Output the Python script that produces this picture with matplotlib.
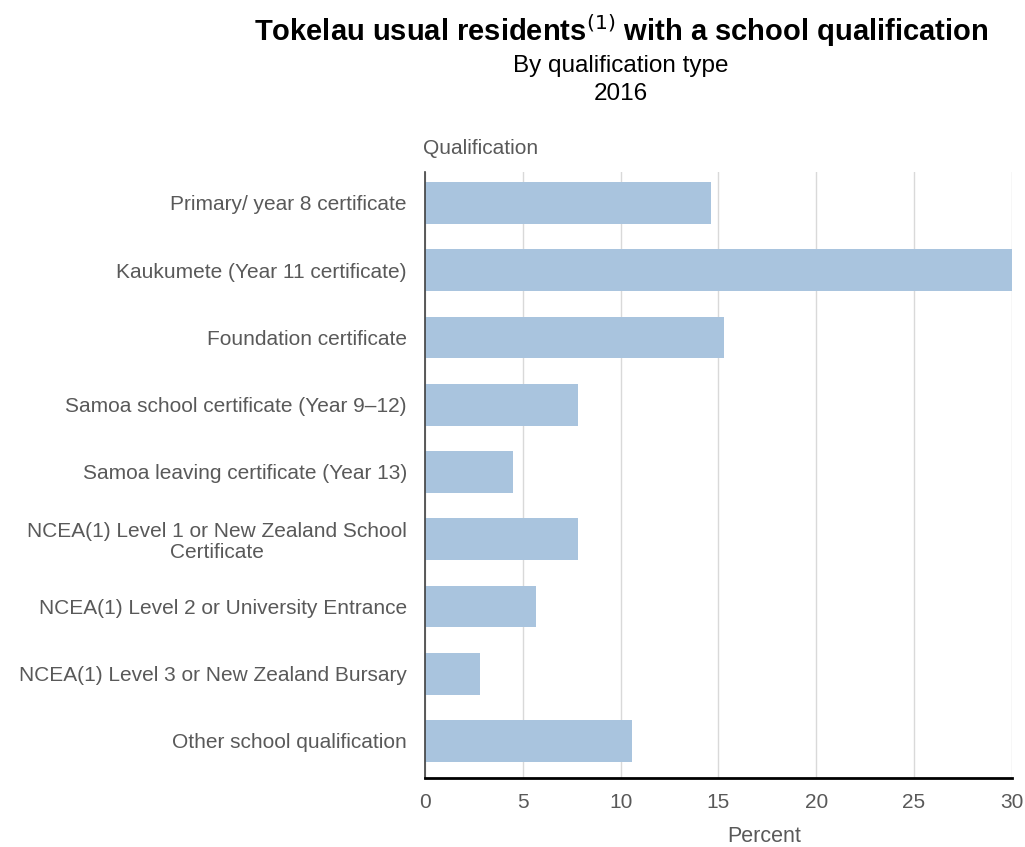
import matplotlib as mpl
from matplotlib import pyplot as plt
import numpy as np

mpl.rc('font', family=['Liberation Sans', 'DejaVu Sans'])

categories = [
    "Primary/ year 8 certificate",
    "Kaukumete (Year 11 certificate)",
    "Foundation certificate",
    "Samoa school certificate (Year 9\u201312)",
    "Samoa leaving certificate (Year 13)",
    "NCEA(1) Level 1 or New Zealand School\nCertificate",
    "NCEA(1) Level 2 or University Entrance",
    "NCEA(1) Level 3 or New Zealand Bursary",
    "Other school qualification",
]
percent = [14.6, 30.1, 15.3, 7.8, 4.5, 7.8, 5.7, 2.8, 10.6]
xticks = [0, 5, 10, 15, 20, 25, 30]

grey = '#595959'
bar_col = '#a9c4de'

fig = plt.figure(figsize=(10.25, 8.47), dpi=100)
ax = fig.add_axes([0.4146, 0.0815, 0.5725, 0.7155])

y = np.arange(len(categories))
ax.barh(y, percent, height=0.62, color=bar_col, zorder=2)

# slightly more room under the last bar than above the first
ax.set_ylim(len(categories) - 0.45, -0.46)
ax.set_xlim(0, 30)
ax.set_yticks(y)
ax.set_yticklabels(categories, fontsize=15, color=grey)
ax.set_xticks(xticks)
ax.set_xticklabels([str(t) for t in xticks], fontsize=15, color=grey)
ax.tick_params(axis='y', length=0, pad=13)
ax.tick_params(axis='x', length=0, pad=11)
for lab in ax.get_yticklabels():
    lab.set_multialignment('center')
    lab.set_linespacing(1.1)

ax.grid(axis='x', color='#d9d9d9', lw=1, zorder=0)
ax.set_axisbelow(True)
for s in ['top', 'right']:
    ax.spines[s].set_visible(False)
ax.spines['left'].set_color('#404040')
ax.spines['left'].set_linewidth(1.2)
ax.spines['bottom'].set_color('black')
ax.spines['bottom'].set_linewidth(2)

fig.text(0.746, 0.0125, "Percent", fontsize=15.5, color=grey, ha='center', va='center')
fig.text(0.4126, 0.825, "Qualification", fontsize=15, color=grey, ha='left', va='center')

fig.text(0.6055, 0.964, r"Tokelau usual residents$^{\mathsf{(1)}}$ with a school qualification",
         fontsize=21, fontweight='bold', ha='center', va='center')
fig.text(0.6055, 0.922, "By qualification type", fontsize=17.5, ha='center', va='center')
fig.text(0.6055, 0.889, "2016", fontsize=17.5, ha='center', va='center')

fig.savefig('out.png', dpi=100)
